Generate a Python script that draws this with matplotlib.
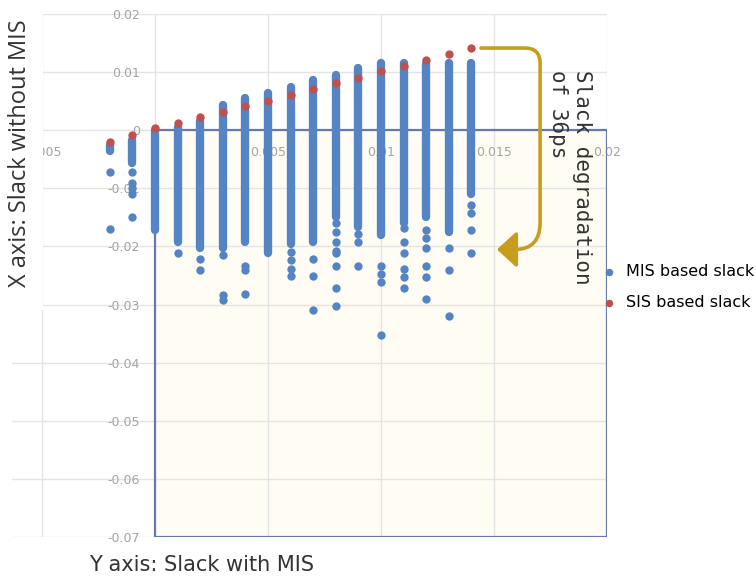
import numpy as np
import matplotlib.pyplot as plt
from matplotlib.patches import Rectangle, FancyArrowPatch
from matplotlib.path import Path

# one column of dots per x value
cols = [-0.002, -0.001, 0.000, 0.001, 0.002, 0.003, 0.004, 0.005, 0.006,
        0.007, 0.008, 0.009, 0.010, 0.011, 0.012, 0.013, 0.014]
sis_slack = [-0.0021, -0.0009, 0.0003, 0.0012, 0.0022, 0.0031, 0.0041, 0.0050, 0.0060,
             0.0071, 0.0081, 0.0090, 0.0102, 0.0110, 0.0121, 0.0132, 0.0141]
# dense part of the MIS column (top / bottom of the overlapping dots)
mis_top = [-0.0026, -0.0017, 0.0000, 0.0005, 0.0016, 0.0043, 0.0055, 0.0064, 0.0074,
           0.0086, 0.0095, 0.0107, 0.0115, 0.0116, 0.0114, 0.0115, 0.0115]
mis_bottom = [-0.0036, -0.0057, -0.0172, -0.0193, -0.0202, -0.0203, -0.0193, -0.0212, -0.0195,
              -0.0193, -0.0150, -0.0167, -0.0181, -0.0159, -0.0150, -0.0176, -0.0109]
# separate dots below the dense part
mis_outliers = [
    [-0.0072, -0.0170],
    [-0.0072, -0.0090, -0.0100, -0.0110, -0.0150],
    [],
    [-0.0212],
    [-0.0221, -0.0241],
    [-0.0214, -0.0284, -0.0293],
    [-0.0233, -0.0241, -0.0281],
    [],
    [-0.0210, -0.0224, -0.0238, -0.0250],
    [-0.0221, -0.0250, -0.0310],
    [-0.0160, -0.0176, -0.0193, -0.0207, -0.0212, -0.0233, -0.0271, -0.0302],
    [-0.0178, -0.0193, -0.0233],
    [-0.0233, -0.0247, -0.0262, -0.0353],
    [-0.0169, -0.0193, -0.0212, -0.0238, -0.0253, -0.0271],
    [-0.0171, -0.0186, -0.0202, -0.0233, -0.0253, -0.0291],
    [-0.0202, -0.0241, -0.0320],
    [-0.0129, -0.0143, -0.0172, -0.0212],
]

xticks = [-0.005, 0, 0.005, 0.01, 0.015, 0.02]
xticklabels = ["-0.005", "0", "0.005", "0.01", "0.015", "0.02"]
yticks = [0.02, 0.01, 0, -0.01, -0.02, -0.03, -0.04, -0.05, -0.06, -0.07]
yticklabels = ["0.02", "0.01", "0", "-0.01", "-0.02", "-0.03", "-0.04", "-0.05", "-0.06", "-0.07"]

blue = "#5584c4"
red = "#c0504d"
gold = "#c79d1c"

fig = plt.figure(figsize=(7.56, 5.77), dpi=100)
ax = fig.add_axes([12 / 756, 1 - 537 / 577, 595 / 756, 523 / 577])
ax.set_xlim(-0.006327, 0.02)
ax.set_ylim(-0.07, 0.02)

for s in ax.spines.values():
    s.set_visible(False)
ax.spines["left"].set_position(("data", 0))
ax.spines["bottom"].set_position(("data", 0))
ax.set_xticks(xticks)
ax.set_xticklabels(xticklabels)
ax.set_yticks(yticks)
ax.set_yticklabels(yticklabels)
ax.tick_params(length=0, labelsize=9, labelcolor="#a3a3a3")
ax.tick_params(axis="y", pad=11)
ax.tick_params(axis="x", pad=11)
ax.grid(True, color="#e4e4e4", lw=1)

# highlighted box (x >= 0, y <= 0)
ax.add_patch(Rectangle((0, -0.07), 0.02, 0.07, facecolor="#fffcf4", edgecolor="none", zorder=1))
ax.add_patch(Rectangle((0, -0.07), 0.02, 0.07, facecolor="none", edgecolor="#6679ad", lw=1.6, zorder=2))
# blank area behind the y label
ax.add_patch(Rectangle((-0.0064, -0.031), 0.00145, 0.052, facecolor="white", edgecolor="none", zorder=2))

dot = 6.0
ax.vlines(cols, mis_bottom, mis_top, colors=blue, lw=dot, capstyle="round", zorder=3)
ox, oy = [], []
for x, vals in zip(cols, mis_outliers):
    ox += [x] * len(vals)
    oy += vals
h_mis = ax.scatter(ox, oy, s=dot ** 2, color=blue, lw=0, zorder=3, label="MIS based slack")
h_sis = ax.scatter(cols, sis_slack, s=dot ** 2, color=red, lw=0, zorder=4, label="SIS based slack")

# arrow from the worst SIS point down to the MIS spread
verts = [(0.01442, 0.01414), (0.01637, 0.01414), (0.01704, 0.01414), (0.01704, 0.01155),
         (0.01704, -0.01590), (0.01704, -0.02052), (0.01593, -0.02052), (0.01513, -0.02052)]
codes = [Path.MOVETO, Path.LINETO, Path.CURVE3, Path.CURVE3,
         Path.LINETO, Path.CURVE3, Path.CURVE3, Path.LINETO]
arrow = FancyArrowPatch(path=Path(verts, codes), arrowstyle="-|>,head_length=0.6,head_width=0.55",
                        mutation_scale=20, color=gold, lw=2.6, zorder=5)
ax.add_patch(arrow)

fig.text(570 / 756, 1 - 70 / 577, "Slack degradation\nof 36ps", rotation=270, ha="center", va="top",
         multialignment="left", family="DejaVu Sans Mono", fontsize=15, color="#333333", linespacing=1.2)

fig.text(20 / 756, 1 - 153 / 577, "X axis: Slack without MIS", rotation=90, ha="center", va="center",
         family="Open Sans", fontsize=17, color="#333333")
fig.text(202 / 756, 1 - 565 / 577, "Y axis: Slack with MIS", ha="center", va="center",
         family="DejaVu Sans", fontsize=15, color="#333333")

fig.legend(handles=[h_mis, h_sis], loc="center left", bbox_to_anchor=(603 / 756, 1 - 287 / 577),
           frameon=False, fontsize=11.5, markerscale=0.9, handlelength=0.7, handletextpad=0.75,
           labelspacing=1.0, borderpad=0, borderaxespad=0)

fig.savefig("out.png", dpi=100)
